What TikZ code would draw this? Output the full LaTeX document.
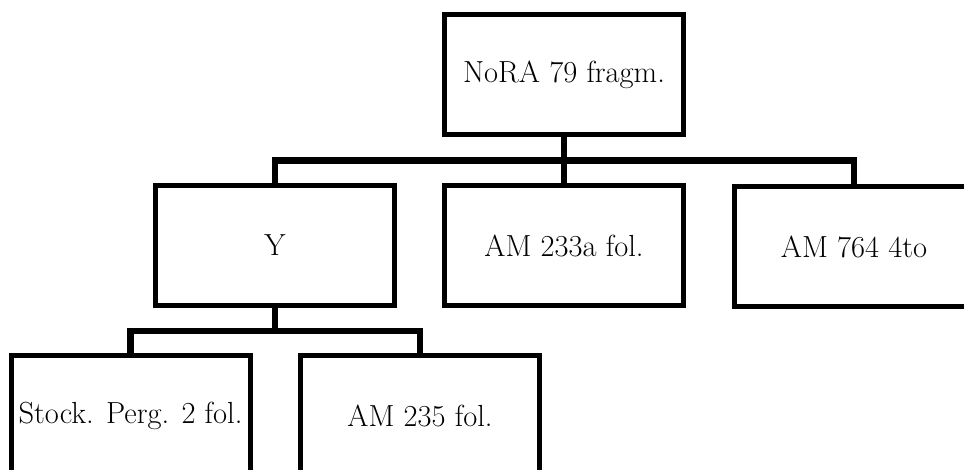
\documentclass[tikz,border=0pt]{standalone}
\usepackage{fontspec}
\begin{document}
\begin{tikzpicture}[x=1pt,y=-1pt,
  box/.style={draw, line width=5pt, minimum width=239pt, minimum height=120pt, inner sep=0pt, font=\fontsize{30.5}{36}\selectfont},
  conn/.style={line width=6.5pt}]
\useasboundingbox (0,0) rectangle (964,470);
\node[box] (nora) at (564,75) {NoRA 79 fragm.};
\node[box] (y) at (275,245.5) {Y};
\node[box] (am233) at (564,246) {AM 233a fol.};
\node[box] (am764) at (854,247) {AM 764 4to};
\node[box] (stock) at (130.5,415.5) {Stock. Perg. 2 fol.};
\node[box] (am235) at (420,415.5) {AM 235 fol.};
\coordinate (j1) at (564,160.5);
\coordinate (j2) at (275,331);
\draw[conn] (nora.south) -- (j1);
\draw[conn] (y.north) |- (j1) -| (am764.north);
\draw[conn] (j1) -- (am233.north);
\draw[conn] (y.south) -- (j2);
\draw[conn] (stock.north) |- (j2) -| (am235.north);
\end{tikzpicture}
\end{document}
